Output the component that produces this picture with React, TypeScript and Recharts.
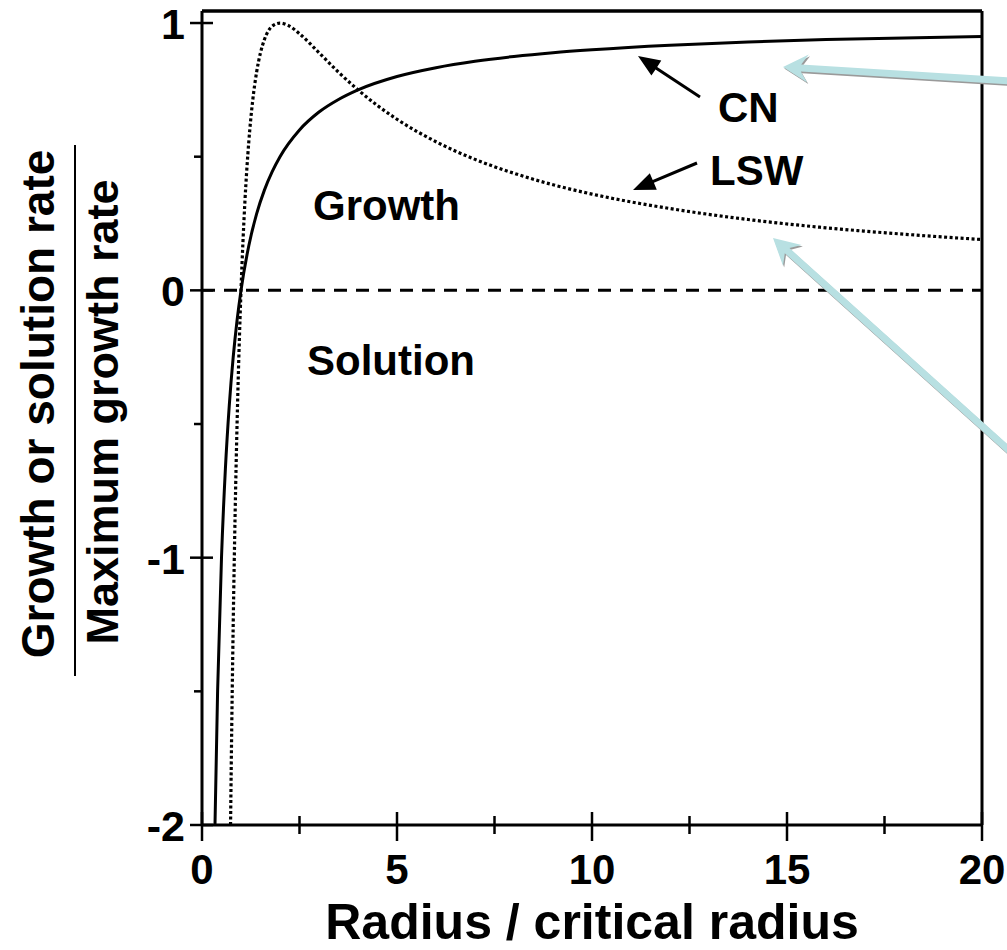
import React from "react";
import { LineChart, Line, XAxis, YAxis, ReferenceLine } from "recharts";

// Growth / solution rate vs. radius — CN and LSW models
const X_TICKS = [0, 2.5, 5, 7.5, 10, 12.5, 15, 17.5, 20];
const X_LABELED = [0, 5, 10, 15, 20];
const Y_TICKS = [-2, -1.5, -1, -0.5, 0, 0.5, 1];
const Y_LABELED = [-2, -1, 0, 1];
const X_DOMAIN = [0, 20];
const Y_DOMAIN = [-2, 1.045];

const cnRadius = [0.333, 0.4, 0.5, 0.6, 0.7, 0.8, 0.9, 1, 1.2, 1.4, 1.6, 1.8, 2, 2.5, 3, 3.5, 4, 5, 6, 7, 8, 9, 10, 12, 14, 16, 18, 20];
const cnRate = [-2.0, -1.5, -1.0, -0.667, -0.429, -0.25, -0.111, 0, 0.167, 0.286, 0.375, 0.444, 0.5, 0.6, 0.667, 0.714, 0.75, 0.8, 0.833, 0.857, 0.875, 0.889, 0.9, 0.917, 0.929, 0.938, 0.944, 0.95];

const lswRadius = [0.732, 0.75, 0.8, 0.85, 0.9, 0.95, 1, 1.1, 1.2, 1.3, 1.4, 1.5, 1.6, 1.8, 2, 2.2, 2.5, 3, 3.5, 4, 4.5, 5, 6, 7, 8, 9, 10, 12, 14, 16, 18, 20];
const lswRate = [-2.0, -1.778, -1.25, -0.83, -0.494, -0.222, 0, 0.331, 0.556, 0.71, 0.816, 0.889, 0.938, 0.988, 1.0, 0.992, 0.96, 0.889, 0.816, 0.75, 0.691, 0.64, 0.556, 0.49, 0.438, 0.395, 0.36, 0.306, 0.265, 0.234, 0.21, 0.19];

const cnData = cnRadius.map((x, i) => ({ x, y: cnRate[i] }));
const lswData = lswRadius.map((x, i) => ({ x, y: lswRate[i] }));

const FONT = "'Liberation Sans', Arial, Helvetica, sans-serif";
const W = 1007;
const H = 950;

const XTick = (props: any) => {
  const { x, y, payload } = props;
  const major = X_LABELED.includes(payload.value);
  const up = major ? 13 : 9;
  const down = major ? 16 : 9;
  return (
    <g>
      <line x1={x} x2={x} y1={y - up} y2={y + down} stroke="#000" strokeWidth={2.5} />
      {major && (
        <text x={x} y={y + 59} textAnchor="middle" fontSize={42} fontWeight={700} fontFamily={FONT} fill="#000">
          {payload.value}
        </text>
      )}
    </g>
  );
};

const YTick = (props: any) => {
  const { x, y, payload } = props;
  const major = Y_LABELED.includes(payload.value);
  return (
    <g>
      <line x1={x - (major ? 12 : 8)} x2={x + (major ? 11 : 0)} y1={y} y2={y} stroke="#000" strokeWidth={2.5} />
      {major && (
        <text x={x - 17} y={y + 16} textAnchor="end" fontSize={43} fontWeight={700} fontFamily={FONT} fill="#000">
          {payload.value}
        </text>
      )}
    </g>
  );
};

// arrow outline with swept-back head, from tail (tx,ty) to tip (hx,hy)
function arrowPath(tx: number, ty: number, hx: number, hy: number, w: number, L: number, hw: number, notch: number) {
  const dx = hx - tx;
  const dy = hy - ty;
  const len = Math.hypot(dx, dy);
  const ux = dx / len;
  const uy = dy / len;
  const px = -uy;
  const py = ux;
  const bx = hx - ux * L;
  const by = hy - uy * L;
  const nx = hx - ux * (L - notch);
  const ny = hy - uy * (L - notch);
  const pts = [
    [tx + (px * w) / 2, ty + (py * w) / 2],
    [nx + (px * w) / 2, ny + (py * w) / 2],
    [bx + px * hw, by + py * hw],
    [hx, hy],
    [bx - px * hw, by - py * hw],
    [nx - (px * w) / 2, ny - (py * w) / 2],
    [tx - (px * w) / 2, ty - (py * w) / 2],
  ];
  return "M" + pts.map((p) => p[0].toFixed(1) + "," + p[1].toFixed(1)).join("L") + "Z";
}

const labelStyle = { fontFamily: FONT, fontWeight: 700, fontSize: 42, fill: "#000" };

export default function App() {
  return (
    <div style={{ position: "absolute", left: 0, top: 0, width: W, height: H, background: "#fff" }}>
      <LineChart width={W} height={H} margin={{ top: 11, right: 25, bottom: 0, left: 0 }}>
        <XAxis
          dataKey="x"
          type="number"
          domain={X_DOMAIN}
          ticks={X_TICKS}
          interval={0}
          height={125}
          tickSize={0}
          tickMargin={0}
          tickLine={false}
          tick={<XTick />}
          axisLine={{ stroke: "#000", strokeWidth: 3 }}
          label={{
            value: "Radius / critical radius",
            position: "insideBottom",
            offset: 11,
            fill: "#000",
            fontSize: 50,
            fontWeight: 700,
            fontFamily: FONT,
          }}
        />
        <YAxis
          type="number"
          domain={Y_DOMAIN}
          allowDataOverflow
          ticks={Y_TICKS}
          interval={0}
          width={202}
          tickSize={0}
          tickMargin={0}
          tickLine={false}
          tick={<YTick />}
          axisLine={{ stroke: "#000", strokeWidth: 3 }}
        />
        {/* frame: top and right borders */}
        <ReferenceLine y={Y_DOMAIN[1]} stroke="#000" strokeWidth={3.5} ifOverflow="visible" />
        <ReferenceLine x={X_DOMAIN[1]} stroke="#000" strokeWidth={3} ifOverflow="visible" />
        <ReferenceLine y={0} stroke="#000" strokeWidth={3} strokeDasharray="13 9" />
        <Line
          data={cnData}
          dataKey="y"
          type="monotone"
          stroke="#000"
          strokeWidth={3}
          dot={false}
          isAnimationActive={false}
        />
        <Line
          data={lswData}
          dataKey="y"
          type="monotone"
          stroke="#000"
          strokeWidth={3.2}
          strokeDasharray="3 2.5"
          dot={false}
          isAnimationActive={false}
        />
      </LineChart>

      <svg width={W} height={H} style={{ position: "absolute", left: 0, top: 0, pointerEvents: "none" }}>
        {/* y axis title as a fraction */}
        <text transform="translate(54,404) rotate(-90)" textAnchor="middle" fontFamily={FONT} fontWeight={700} fontSize={46} fill="#000">
          Growth or solution rate
        </text>
        <line x1={75} x2={75} y1={145} y2={676} stroke="#000" strokeWidth={2} />
        <text transform="translate(118,412) rotate(-90)" textAnchor="middle" fontFamily={FONT} fontWeight={700} fontSize={45} fill="#000">
          Maximum growth rate
        </text>

        {/* region and curve labels */}
        <text x={313} y={220} style={labelStyle}>Growth</text>
        <text x={307} y={375} style={labelStyle}>Solution</text>
        <text x={718} y={122} style={labelStyle}>CN</text>
        <text x={710} y={185} style={labelStyle}>LSW</text>

        {/* black pointer arrows */}
        <path d={arrowPath(700, 97, 638, 56, 3, 22, 9, 0)} fill="#000" />
        <path d={arrowPath(697, 163, 633, 190, 3, 22, 9, 0)} fill="#000" />

        {/* light blue callout arrows */}
        <g transform="translate(1.2,1.6)">
          <path d={arrowPath(1012, 81, 783, 67, 7, 25, 14, 7)} fill="#9a9a9a" />
          <path d={arrowPath(1012, 453, 773, 238, 7, 26, 14, 7)} fill="#9a9a9a" />
        </g>
        <path d={arrowPath(1012, 81, 783, 67, 7, 25, 14, 7)} fill="#b8e0e2" />
        <path d={arrowPath(1012, 453, 773, 238, 7, 26, 14, 7)} fill="#b8e0e2" />
      </svg>
    </div>
  );
}
